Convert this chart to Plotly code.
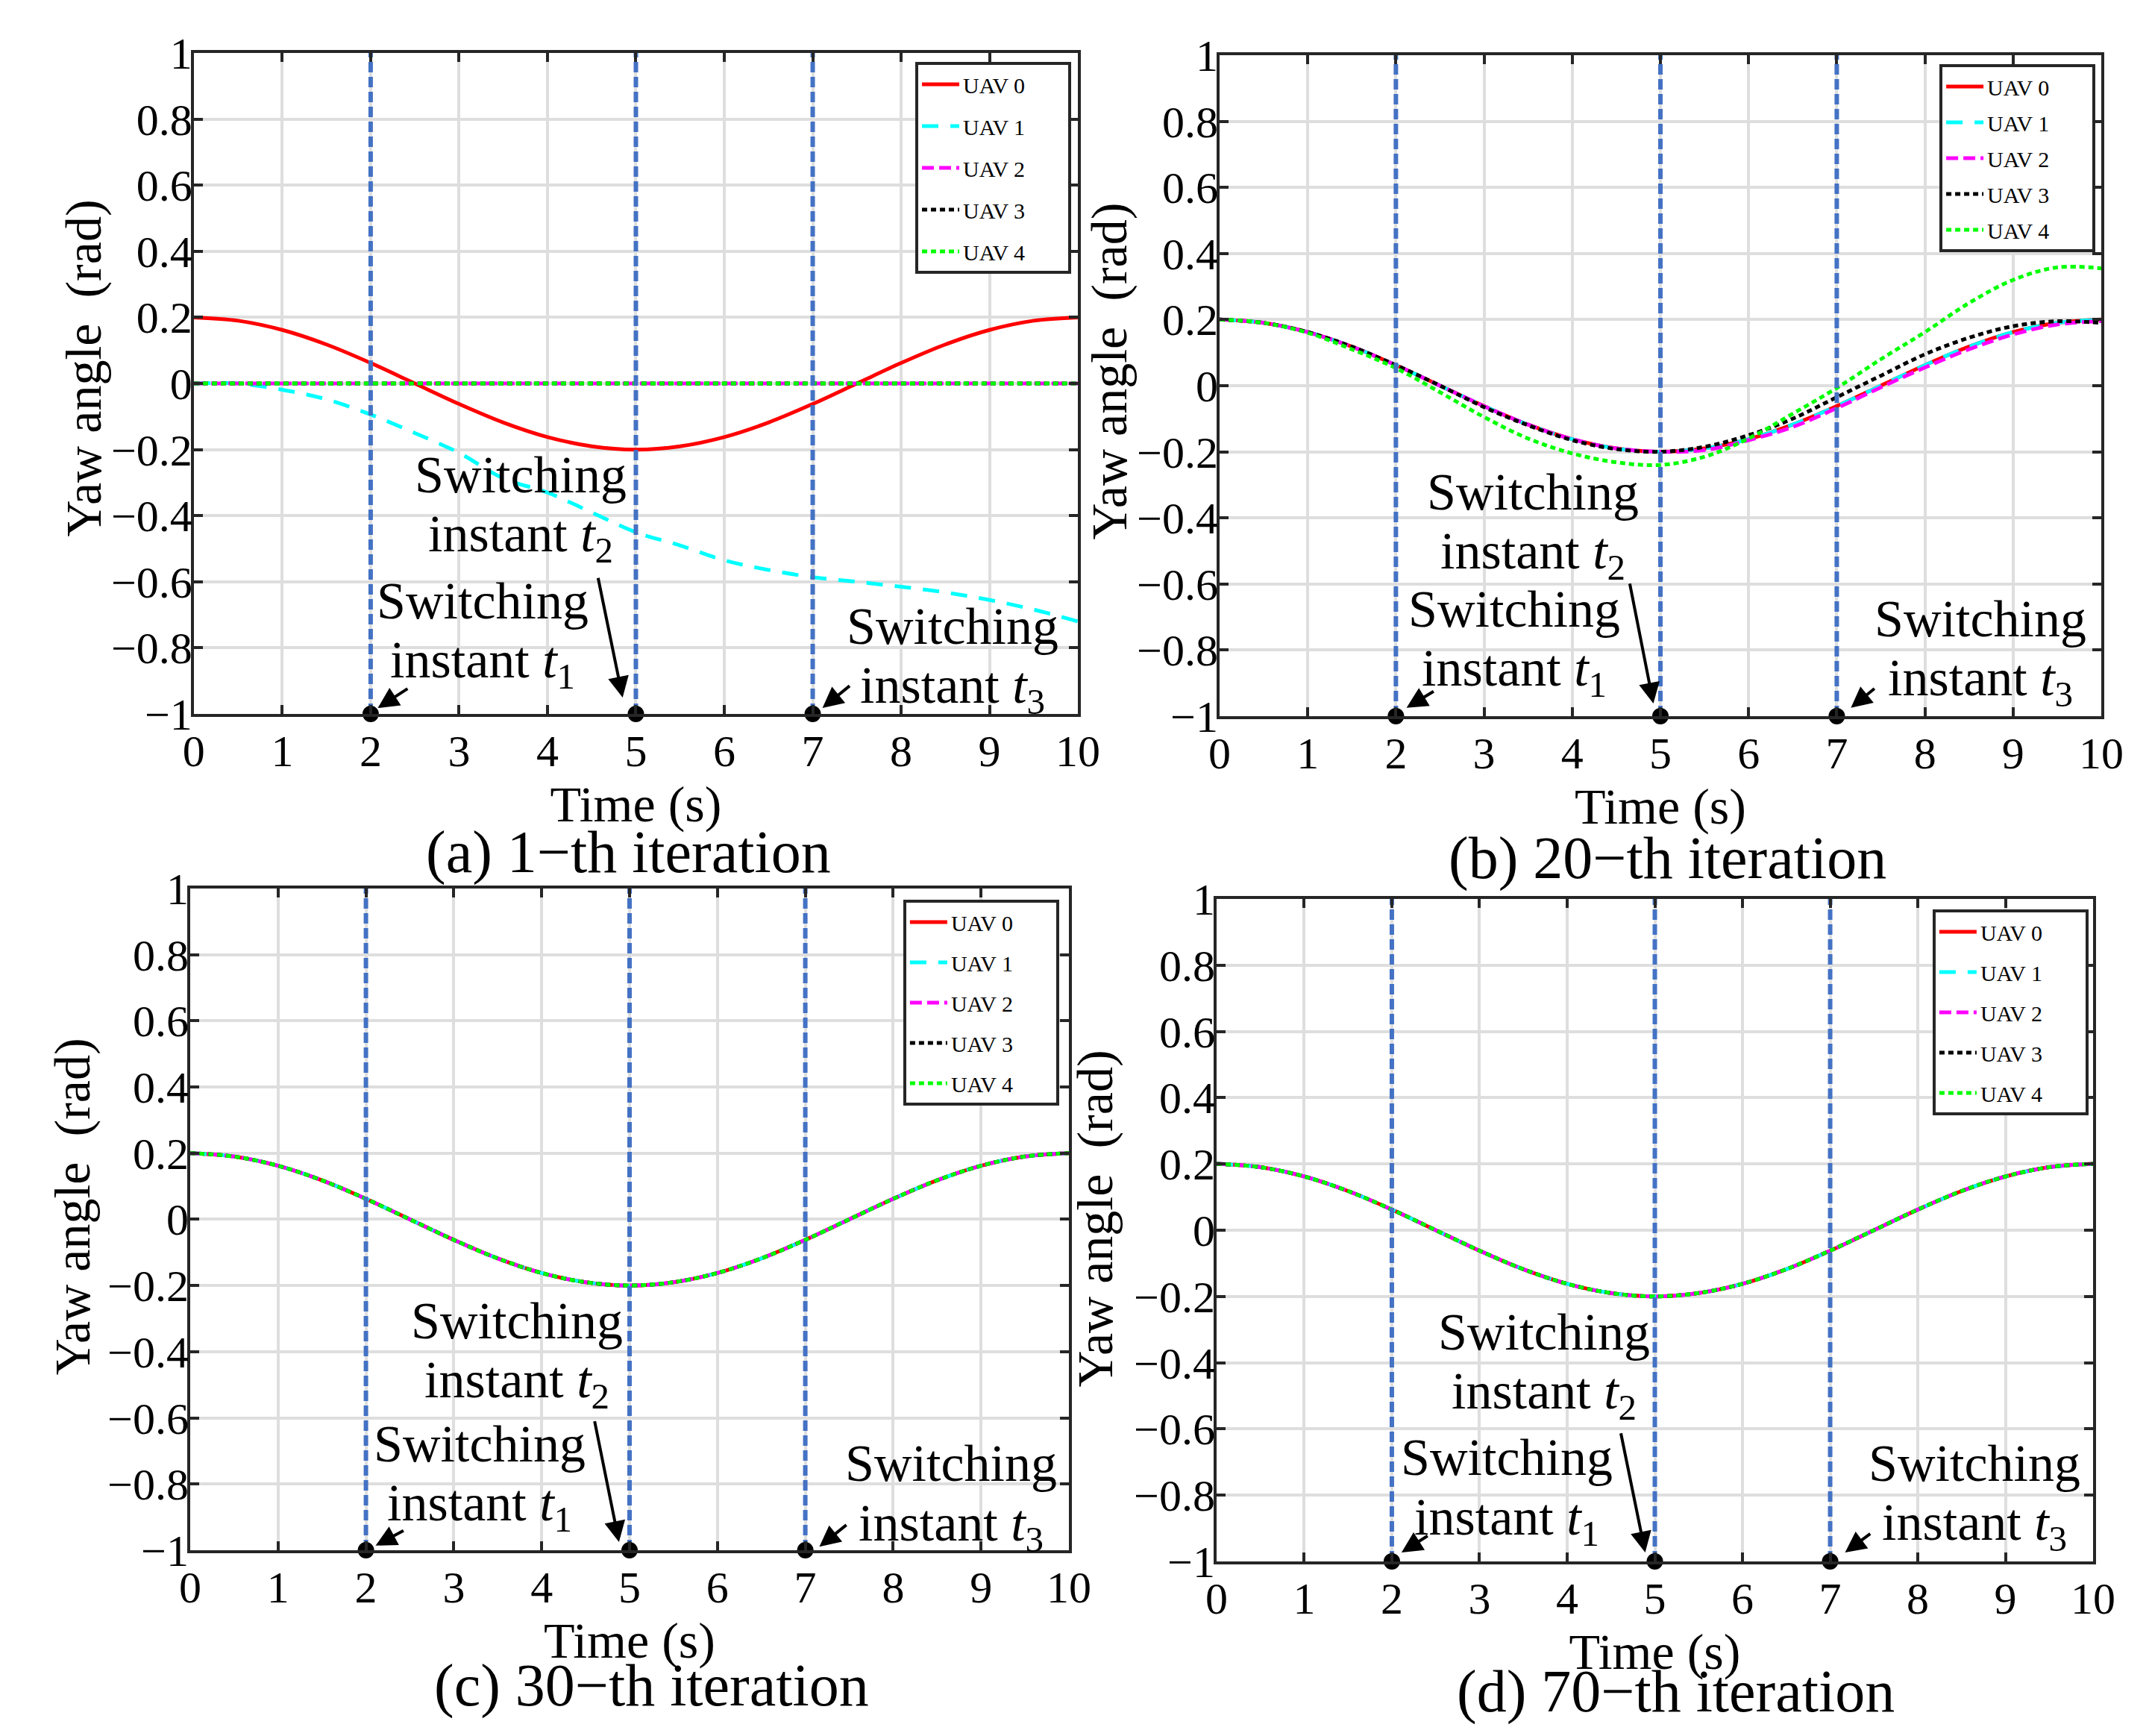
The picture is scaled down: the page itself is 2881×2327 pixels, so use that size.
import plotly.graph_objects as go

# sample times (s)
t = [0, 0.5, 1, 1.5, 2, 2.5, 3, 3.5, 4, 4.5, 5,
     5.5, 6, 6.5, 7, 7.5, 8, 8.5, 9, 9.5, 10]

# UAV 0 (leader) yaw angle, same in every panel
yaw_ref = [0.2, 0.19, 0.162, 0.118, 0.062, 0.0, -0.062, -0.118, -0.162, -0.19, -0.2,
           -0.19, -0.162, -0.118, -0.062, 0.0, 0.062, 0.118, 0.162, 0.19, 0.2]

# (a) 1-th iteration
a_uav1 = [0.0, 0.0, -0.019, -0.048, -0.094, -0.15, -0.21, -0.287, -0.33, -0.39, -0.45,
          -0.49, -0.535, -0.564, -0.586, -0.6, -0.615, -0.632, -0.655, -0.684, -0.72]
a_flat = [0.0, 0.0, 0.0, 0.0, 0.0, 0.0, 0.0, 0.0, 0.0, 0.0, 0.0,
          0.0, 0.0, 0.0, 0.0, 0.0, 0.0, 0.0, 0.0, 0.0, 0.0]

# (b) 20-th iteration
b_uav2 = [0.2, 0.19, 0.162, 0.118, 0.062, 0.0, -0.062, -0.118, -0.162, -0.19, -0.2,
          -0.195, -0.165, -0.125, -0.068, -0.005, 0.055, 0.11, 0.155, 0.185, 0.195]
b_uav3 = [0.2, 0.19, 0.162, 0.118, 0.062, 0.0, -0.065, -0.12, -0.165, -0.192, -0.2,
          -0.185, -0.15, -0.1, -0.035, 0.03, 0.095, 0.145, 0.18, 0.195, 0.19]
b_uav4 = [0.2, 0.19, 0.16, 0.11, 0.053, -0.02, -0.095, -0.16, -0.205, -0.232, -0.24,
          -0.215, -0.16, -0.085, -0.007, 0.08, 0.162, 0.25, 0.32, 0.358, 0.355]

switch_t = [2, 5, 7]
switch_y = [-1, -1, -1]

names = ["UAV 0", "UAV 1", "UAV 2", "UAV 3", "UAV 4"]
colors = ["#FF0000", "#00FFFF", "#FF00FF", "#000000", "#00FF00"]
dashes = ["solid", "22px,16px", "16px,7px", "7px,5px", "7px,5px"]

panels = [
    [yaw_ref, a_uav1, a_flat, a_flat, a_flat],
    [yaw_ref, yaw_ref, b_uav2, b_uav3, b_uav4],
    [yaw_ref, yaw_ref, yaw_ref, yaw_ref, yaw_ref],
    [yaw_ref, yaw_ref, yaw_ref, yaw_ref, yaw_ref],
]
captions = ["(a) 1\u2212th iteration", "(b) 20\u2212th iteration",
            "(c) 30\u2212th iteration", "(d) 70\u2212th iteration"]

# page body margin (8px) pushes the plot; pull everything back by that much
OX, OY = 8 / 2881, 8 / 2327

# layout of the four panels (paper coords)
xdom = [[0.0902, 0.5016], [0.5675, 0.9778], [0.0885, 0.4974], [0.5661, 0.9740]]
ydom = [[0.5887, 0.9695], [0.5875, 0.9682], [0.1070, 0.4882], [0.1006, 0.4822]]
ytitle_pos = [(0.0389, 0.788), (0.516, 0.786), (0.0337, 0.305), (0.5095, 0.298)]
cap_pos = [(0.2926, 0.5092), (0.7758, 0.5057), (0.3033, 0.0292), (0.7796, 0.0257)]
leg_pos = [(0.4259, 0.9643, 14), (0.9025, 0.9630, 6), (0.4203, 0.4817, 12), (0.8993, 0.4762, 12)]

# text label centres and arrows (tail -> head), data coords
txt_pos = [
    [(3.27, -0.749), (3.70, -0.368), (8.58, -0.826)],
    [(3.34, -0.768), (3.55, -0.413), (8.63, -0.797)],
    [(3.29, -0.770), (3.72, -0.398), (8.66, -0.829)],
    [(3.31, -0.779), (3.74, -0.399), (8.65, -0.795)],
]
arrows = [
    [((2.43, -0.921), (2.08, -0.982)), ((4.57, -0.585), (4.85, -0.950)), ((7.43, -0.912), (7.11, -0.982))],
    [((2.44, -0.923), (2.12, -0.975)), ((4.65, -0.596), (4.92, -0.962)), ((7.44, -0.914), (7.16, -0.975))],
    [((2.44, -0.939), (2.11, -0.986)), ((4.60, -0.607), (4.88, -0.975)), ((7.48, -0.921), (7.16, -0.989))],
    [((2.42, -0.921), (2.11, -0.973)), ((4.61, -0.610), (4.89, -0.973)), ((7.47, -0.914), (7.17, -0.973))],
]

FONT = "Liberation Serif"
AXC = "#262626"

fig = go.Figure()
layout = dict(
    width=2881, height=2327, autosize=False,
    margin=dict(l=0, r=0, t=0, b=0),
    paper_bgcolor="white", plot_bgcolor="white",
    font=dict(family=FONT, color="black"),
    annotations=[],
)

for p in range(4):
    sfx = "" if p == 0 else str(p + 1)
    xa, ya = "x" + sfx, "y" + sfx
    leg = "legend" + sfx

    for i in range(5):
        fig.add_trace(go.Scatter(
            x=t, y=panels[p][i], mode="lines", name=names[i] + "\u00a0" * 7,
            line=dict(color=colors[i], width=5, dash=dashes[i], shape="spline"),
            xaxis=xa, yaxis=ya, legend=leg, legendgroup=f"{p}_{i}",
        ))

    # switching instants
    for st in switch_t:
        fig.add_trace(go.Scatter(
            x=[st, st], y=[-1, 1], mode="lines", showlegend=False,
            line=dict(color="#4472C4", width=6, dash="14px,6px"),
            xaxis=xa, yaxis=ya,
        ))
    fig.add_trace(go.Scatter(
        x=switch_t, y=switch_y, mode="markers", showlegend=False, cliponaxis=False,
        marker=dict(color="black", size=22),
        xaxis=xa, yaxis=ya,
    ))

    axis_common = dict(
        showline=True, linecolor=AXC, linewidth=4, mirror="ticks",
        ticks="inside", ticklen=12, tickwidth=4, tickcolor=AXC,
        showgrid=True, gridcolor="#DEDEDE", gridwidth=4, zeroline=False,
        automargin=False,
        tickfont=dict(family=FONT, size=60, color="black"),
    )
    layout["xaxis" + sfx] = dict(
        axis_common, domain=[xdom[p][0] - OX, xdom[p][1] - OX], anchor=ya,
        range=[0, 10], dtick=1, tick0=0, ticklabelstandoff=-6,
        title=dict(text="Time (s)", font=dict(family=FONT, size=68), standoff=0),
    )
    layout["yaxis" + sfx] = dict(
        axis_common, domain=[ydom[p][0] + OY, ydom[p][1] + OY], anchor=xa,
        range=[-1, 1], dtick=0.2, tick0=-1, ticklabelstandoff=-14,
    )
    lx, ly, gap = leg_pos[p]
    layout[leg] = dict(
        x=lx - OX, y=ly + OY, xanchor="left", yanchor="top", bgcolor="white",
        bordercolor=AXC, borderwidth=4, tracegroupgap=gap, itemwidth=50,
        font=dict(family=FONT, size=30, color="black"),
    )

    ann = layout["annotations"]
    ann.append(dict(
        text="Yaw angle\u00a0\u00a0(rad)", xref="paper", yref="paper",
        x=ytitle_pos[p][0] - OX, y=ytitle_pos[p][1] + OY, textangle=-90, showarrow=False,
        xanchor="center", yanchor="middle", font=dict(family=FONT, size=68),
    ))
    ann.append(dict(
        text=captions[p], xref="paper", yref="paper",
        x=cap_pos[p][0] - OX, y=cap_pos[p][1] + OY,
        showarrow=False, xanchor="center", yanchor="middle", font=dict(family=FONT, size=80),
    ))
    for k in range(3):
        tx, ty = txt_pos[p][k]
        ann.append(dict(
            text="Switching", xref=xa, yref=ya, x=tx, y=ty + 0.092, showarrow=False,
            xanchor="center", yanchor="middle", font=dict(family=FONT, size=70),
        ))
        ann.append(dict(
            text=f"instant <i>t</i><sub>{k + 1}</sub>", xref=xa, yref=ya,
            x=tx, y=ty - 0.10, showarrow=False,
            xanchor="center", yanchor="middle", font=dict(family=FONT, size=70),
        ))
        (x0, y0), (x1, y1) = arrows[p][k]
        ann.append(dict(
            text="", xref=xa, yref=ya, axref=xa, ayref=ya, x=x1, y=y1, ax=x0, ay=y0,
            showarrow=True, arrowhead=2, arrowsize=1.4, arrowwidth=4, arrowcolor="black",
        ))

fig.update_layout(layout)
fig.write_html("out.html")
